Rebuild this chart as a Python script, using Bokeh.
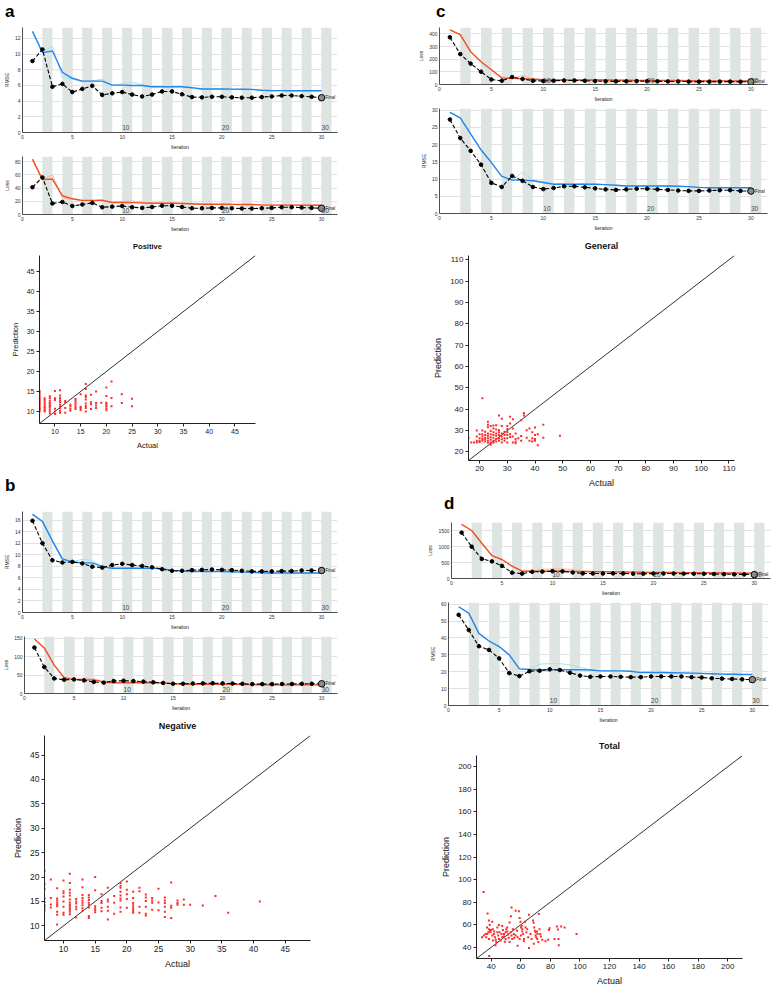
from bokeh.plotting import figure
from bokeh.layouts import column, row
from bokeh.models import Div, Range1d, FixedTicker
from bokeh.embed import file_html
from bokeh.resources import INLINE
from bokeh.core.properties import value

FONT = "Liberation Sans"

# ---------------- training-progress data ----------------
ITERS = list(range(1, 31))
BAND_START = [2, 4, 6, 8, 10, 12, 14, 16, 18, 20, 22, 24, 26, 28, 30]
EPOCH_AT = [10, 20, 30]
EPOCH_LABELS = ["10", "20", "30"]
ITER_TICKS = [0, 5, 10, 15, 20, 25, 30]

# panel a (Positive)
a_rmse_val = [9.12, 10.6, 5.84, 6.2, 5.16, 5.56, 5.96, 4.8, 5.0, 5.16, 4.84, 4.6, 4.84, 5.24, 5.24,
              4.88, 4.52, 4.48, 4.56, 4.56, 4.48, 4.44, 4.44, 4.52, 4.6, 4.72, 4.72, 4.64, 4.56, 4.44]
a_rmse_smooth = [12.9, 10.2, 10.4, 7.68, 6.92, 6.56, 6.56, 6.56, 6.04, 6.04, 6.0, 6.0, 5.84, 5.84, 5.84,
                 5.84, 5.72, 5.56, 5.56, 5.56, 5.54, 5.52, 5.5, 5.4, 5.34, 5.34, 5.33, 5.33, 5.32, 5.32]
a_rmse_raw = [12.9, 10.3, 11.0, 7.0, 6.8, 6.5, 6.6, 6.8, 6.0, 6.2, 6.4, 6.1, 5.8, 5.9, 5.8,
              5.9, 5.7, 5.5, 5.6, 5.5, 5.5, 5.5, 5.5, 5.4, 5.3, 5.35, 5.3, 5.35, 5.3, 5.3]
a_loss_val = [41.4, 56.2, 16.7, 19.0, 12.9, 15.2, 17.6, 11.0, 11.9, 12.9, 11.0, 10.0, 11.4, 13.3, 13.3,
              11.4, 9.5, 9.5, 10.0, 10.0, 9.5, 9.0, 9.0, 9.5, 10.0, 11.0, 11.0, 10.5, 10.0, 9.5]
a_loss_smooth = [84, 52.9, 53.8, 28.5, 23.8, 21.4, 21.4, 21.4, 18.2, 18.2, 18.0, 17.6, 17.0, 17.0, 17.0,
                 16.8, 16.3, 15.5, 15.5, 15.5, 15.3, 15.2, 15.1, 14.6, 14.3, 14.3, 14.2, 14.2, 14.1, 14.0]
a_loss_raw = [84, 54, 60, 25, 23, 21, 21, 23, 18, 19.5, 20.5, 18.5, 16.8, 17.5, 17.2,
              17.0, 16.0, 15.2, 15.6, 15.2, 15.3, 15.0, 15.1, 14.5, 14.2, 14.4, 14.1, 14.3, 14.0, 14.0]

# panel b (Negative)
b_rmse_val = [15.9, 12.0, 9.05, 8.66, 8.77, 8.5, 7.94, 7.78, 8.22, 8.44, 8.22, 8.06, 7.83, 7.5, 7.23,
              7.23, 7.34, 7.39, 7.45, 7.39, 7.34, 7.23, 7.12, 7.12, 7.12, 7.17, 7.17, 7.28, 7.28, 7.28]
b_rmse_smooth = [17.0, 15.8, 12.4, 9.3, 8.77, 8.6, 8.6, 7.94, 7.67, 7.67, 7.67, 7.67, 7.67, 7.6, 7.28,
                 7.2, 7.1, 7.1, 7.1, 7.1, 7.05, 7.0, 6.95, 6.9, 6.85, 6.85, 6.85, 6.84, 6.84, 6.84]
b_rmse_raw = [17.0, 15.8, 12.4, 9.0, 8.8, 9.2, 9.0, 7.9, 7.6, 7.7, 7.8, 7.6, 7.7, 7.5, 7.2,
              7.3, 7.1, 7.15, 7.1, 7.1, 7.0, 7.05, 6.9, 6.95, 6.85, 6.9, 6.85, 6.8, 6.9, 6.85]
b_loss_val = [125, 72, 40.9, 37.4, 38.3, 35.7, 31.3, 29.6, 33.9, 34.8, 33.9, 32.2, 30.4, 28.7, 26.5,
              26.5, 27.0, 27.4, 27.8, 27.4, 27.0, 26.5, 25.5, 25.5, 25.5, 25.8, 25.8, 26.5, 26.5, 26.5]
b_loss_smooth = [148, 124, 77, 43, 38.5, 37.0, 37.0, 31.5, 29.4, 29.4, 29.4, 29.4, 29.4, 28.9, 26.5,
                 26.0, 25.2, 25.2, 25.2, 25.2, 24.8, 24.5, 24.2, 23.8, 23.5, 23.5, 23.5, 23.4, 23.4, 23.4]
b_loss_raw = [148, 124, 77, 40, 38.7, 42, 40, 31.2, 29, 29.6, 30.4, 29, 29.6, 28, 26,
              26.6, 25.2, 25.6, 25.2, 25.2, 24.5, 24.9, 23.8, 24.2, 23.5, 23.8, 23.5, 23.1, 23.8, 23.5]

# panel c (General)
c_loss_val = [373, 240, 165, 101, 39.5, 29.6, 59, 44, 29.6, 27, 29.6, 32, 32, 29.6, 27,
              24.7, 24.7, 25, 26.5, 26, 25, 24, 24, 23, 22.5, 22.5, 23, 23, 22, 21]
c_loss_smooth = [432, 393, 259, 180, 116, 52, 48, 45, 42, 38, 36, 36, 36, 36, 36,
                 35, 34, 33, 32, 32, 32, 31, 31, 30, 30, 29, 29, 28.5, 28, 28]
c_loss_raw = [432, 393, 259, 180, 116, 52, 46, 72, 45, 40, 37, 36, 35, 37, 36,
              35, 34, 33, 32, 32.5, 32, 31, 31.5, 30, 30, 29, 29, 28.5, 28, 28]
c_rmse_val = [27.3, 21.9, 18.2, 14.2, 8.9, 7.7, 10.9, 9.5, 7.7, 7.1, 7.4, 7.9, 7.9, 7.6, 7.3,
              7.0, 6.85, 7.0, 7.2, 7.2, 7.0, 6.85, 6.67, 6.57, 6.57, 6.67, 6.76, 6.76, 6.57, 6.5]
c_rmse_smooth = [29.4, 27.8, 23.1, 18.5, 14.8, 10.8, 9.7, 9.7, 9.5, 9.0, 8.5, 8.5, 8.5, 8.5, 8.5,
                 8.4, 8.2, 8.0, 8.0, 8.0, 8.0, 8.0, 7.9, 7.8, 7.6, 7.5, 7.5, 7.5, 7.5, 7.5]
c_rmse_raw = [29.4, 27.8, 23.1, 18.5, 14.8, 10.8, 9.6, 12.0, 9.6, 9.2, 8.6, 8.7, 8.4, 8.8, 8.6,
              8.3, 8.1, 8.0, 8.1, 7.9, 8.0, 7.9, 7.9, 7.7, 7.6, 7.5, 7.6, 7.5, 7.5, 7.5]

# panel d (Total)
d_loss_val = [1434, 994, 612, 535, 395, 183, 152, 208, 215, 229, 222, 189, 160, 155, 155,
              160, 155, 150, 150, 155, 155, 155, 152, 150, 148, 140, 135, 130, 128, 122]
d_loss_smooth = [1692, 1500, 1100, 717, 593, 385, 228, 225, 225, 226, 225, 220, 215, 212, 210,
                 207, 205, 200, 195, 192, 190, 188, 185, 182, 180, 177, 174, 171, 168, 165]
d_loss_raw = [1692, 1500, 1100, 717, 593, 385, 228, 240, 290, 300, 300, 285, 250, 225, 212,
              210, 205, 200, 196, 192, 190, 188, 186, 182, 180, 177, 174, 171, 168, 165]
d_rmse_val = [53.7, 44.7, 35.1, 32.9, 27.9, 19.2, 17.4, 20.3, 20.6, 21.4, 21.0, 19.4, 17.7, 17.0, 17.2,
              17.2, 17.0, 16.8, 16.8, 17.2, 17.2, 17.2, 17.2, 16.8, 16.6, 16.1, 15.9, 15.7, 15.5, 15.3]
d_rmse_smooth = [58.5, 54.7, 42.7, 38.2, 34.9, 30.0, 21.7, 21.3, 21.2, 21.2, 21.2, 21.2, 21.2, 21.0, 20.5,
                 20.5, 20.5, 20.3, 19.5, 19.5, 19.5, 19.4, 19.3, 19.2, 19.0, 18.8, 18.6, 18.5, 18.4, 18.4]
d_rmse_raw = [58.5, 54.7, 42.7, 38.2, 34.9, 30.0, 21.7, 21.5, 24.5, 24.8, 24.8, 24.0, 22.5, 21.2, 20.6,
              20.5, 20.4, 20.2, 19.6, 19.5, 19.4, 19.4, 19.3, 19.2, 19.0, 18.8, 18.6, 18.5, 18.4, 18.4]

# ---------------- scatter data (actual -> predictions) ----------------
POS = {
    7: [10.0, 10.3, 10.6, 10.9, 11.2, 11.5, 11.8, 12.1, 12.4, 12.7, 13.0, 13.3, 13.6, 14.0, 14.4, 14.8, 15.2],
    8: [10.0, 10.4, 10.9, 11.3, 11.8, 12.3, 12.9, 13.3],
    9: [9.5, 10.0, 10.5, 11.0, 11.4, 11.8, 12.2, 12.7, 13.3, 13.8],
    10: [9.4, 10.0, 10.7, 12.9, 13.3, 15.1],
    11: [9.7, 10.2, 10.8, 11.2, 11.7, 12.3, 12.8, 13.4, 14.0, 15.3],
    12: [9.7, 10.9, 12.2, 12.6],
    13: [10.2, 10.7, 11.3, 11.7],
    14: [10.6, 11.1, 11.7, 12.2, 12.7, 13.1],
    15: [10.4, 10.9, 11.2, 14.3],
    16: [10.0, 10.9, 11.4, 12.0, 13.0, 13.6, 14.0, 15.6, 16.9],
    17: [10.6, 11.8, 12.3, 14.2],
    18: [10.9, 11.5, 12.1, 15.0],
    19: [12.2],
    20: [10.3, 10.8, 11.4, 11.8, 12.2, 13.9, 16.0],
    21: [11.3, 13.4, 17.5],
    23: [12.1, 14.3],
    25: [11.3, 13.2],
}
NEG = {
    7: [21.3, 18.5, 17.6, 15.6, 14.9, 14.2, 13.75, 13.2],
    8: [19.5, 15.7, 14.4, 13.75],
    9: [17.7, 15.6, 15.2, 14.75, 14.35, 14.0, 12.9, 12.3, 10.3],
    10: [19.3, 17.1, 16.7, 16.0, 15.0, 13.9, 12.7, 12.3],
    11: [20.7, 18.8, 17.4, 16.8, 16.2, 15.4, 14.8, 14.4, 14.0, 13.6, 13.3, 12.9, 12.4],
    12: [15.5, 15.0, 14.6, 13.9, 13.4, 11.7],
    13: [19.5, 17.9, 16.3, 15.7, 15.2, 14.75, 14.2, 13.6, 13.1],
    14: [16.3, 15.8, 15.3, 14.75, 14.3, 13.75, 12.0, 11.6],
    15: [20.0, 17.3, 14.0, 13.6, 13.2, 12.8],
    16: [16.5, 15.1, 14.7, 13.7, 13.0],
    17: [17.8, 15.4, 15.0, 13.9, 13.1, 11.3],
    18: [16.1, 14.75, 12.5],
    19: [18.8, 18.2, 17.8, 17.0, 16.2, 15.6, 15.2, 13.75, 12.9],
    20: [19.1, 17.4, 16.5, 15.5, 13.7],
    21: [17.0, 15.7, 14.7, 14.2, 13.75, 13.35, 13.0, 12.7],
    22: [17.8, 17.1, 13.9, 12.7],
    23: [16.4, 15.8, 15.1, 13.9, 12.5, 12.1],
    24: [15.7, 15.2, 14.75, 13.3],
    25: [17.6, 14.8, 13.2],
    26: [15.8, 15.2, 14.7, 13.9, 12.9, 11.8],
    27: [18.9, 14.1, 13.7, 11.6],
    28: [15.2, 14.7, 14.3],
    29: [15.4, 14.35],
    30: [14.3],
    32: [14.15],
    34: [16.1],
    36: [12.7],
    41: [15.0],
}
GEN = {
    16: [26.4],
    17: [24.4],
    18: [24.4],
    19: [30.1, 27.2, 25.2, 24.4],
    20: [28.3, 26.4, 25.3, 24.7],
    21: [45.1, 30.1, 28.3, 27.2, 26.1, 25.2],
    22: [29.5, 27.9, 26.7, 25.8, 24.9],
    23: [34.1, 32.8, 31.6, 28.7, 27.6, 26.4, 25.2, 24.3],
    24: [32.2, 29.8, 28.3, 26.9, 25.7, 24.4, 23.4],
    25: [32.4, 31.0, 29.2, 27.9, 26.7, 25.3, 24.3],
    26: [32.5, 30.5, 28.7, 27.6, 26.1, 24.9],
    27: [37.1, 30.2, 29.2, 27.9, 26.4, 25.3],
    28: [35.6, 32.2, 28.7, 27.2, 26.0, 24.4],
    29: [29.5, 27.9, 26.4, 25.3],
    30: [32.1, 30.7, 29.2, 27.9, 26.4, 24.4],
    31: [36.5, 33.3, 28.3, 27.0],
    32: [35.3, 31.0, 27.2, 24.4],
    33: [28.7, 26.1, 24.9, 24.1],
    34: [26.4],
    35: [34.8, 27.5, 25.3],
    36: [38.3, 37.1],
    37: [30.2, 26.7],
    38: [31.0, 25.2],
    39: [29.2, 26.4, 24.9],
    40: [31.5, 27.9, 26.1, 25.2],
    41: [28.3, 23.1],
    43: [32.8, 26.7],
    49: [27.6],
}
TOT_ACTUAL = [34.8, 37.5, 38.4, 40.7, 38.6, 33.7, 37.1, 38.4, 39.5, 37.3, 36.6, 38.4, 40.7, 41.8, 42.5,
              43.0, 44.1, 44.1, 44.7, 45.2, 46.3, 42.9, 45.2, 47.4, 47.9, 48.6, 48.6, 49.7, 49.2, 50.8,
              50.8, 51.3, 51.9, 52.4, 53.3, 53.7, 54.6, 55.3, 55.5, 56.5, 57.4, 57.8, 58.7, 59.2, 59.8,
              60.5, 61.0, 61.6, 62.1, 62.1, 62.8, 63.2, 60.1, 61.0, 64.3, 65.0, 65.5, 65.5, 68.2, 68.6,
              69.1, 69.5, 70.0, 70.0, 70.4, 71.1, 70.9, 71.3, 71.8, 72.2, 72.7, 73.1, 73.6, 74.5, 76.7,
              79.0, 79.4, 78.5, 82.8, 84.4, 85.1, 85.5, 85.7, 87.3, 89.6, 97.7,
              39.1, 39.8, 41.1, 42.0, 41.1, 43.4, 46.9, 47.4, 45.6, 49.7, 50.1, 53.1, 53.7, 54.2, 52.4,
              56.5, 57.8, 59.2, 60.1, 63.7, 66.6, 67.3, 68.8, 38.9, 38.0, 36.2, 35.0]
TOT_PRED = [88.9, 69.8, 63.8, 62.6, 32.3, 48.9, 57.5, 56.0, 53.2, 51.7, 48.9, 47.4, 50.3, 51.7, 48.9,
            46.6, 57.5, 53.2, 50.3, 47.4, 46.0, 41.7, 59.7, 58.9, 55.2, 51.7, 49.4, 47.4, 44.9, 57.5,
            54.0, 51.2, 48.3, 62.0, 67.5, 75.2, 56.0, 51.7, 48.3, 72.3, 54.6, 41.4, 71.8, 66.0, 62.6,
            58.9, 56.0, 51.7, 47.4, 45.4, 62.6, 57.5, 57.5, 54.0, 56.0, 48.9, 68.9, 39.4, 63.8, 61.8,
            57.5, 54.6, 53.2, 50.3, 48.9, 47.4, 54.0, 51.7, 44.6, 69.5, 56.0, 51.7, 49.4, 46.6, 45.4,
            55.2, 56.9, 46.6, 47.4, 58.3, 55.7, 47.4, 41.7, 58.3, 57.5, 51.7,
            54.6, 55.2, 56.0, 54.0, 46.0, 44.6, 51.7, 48.9, 53.2, 53.2, 56.0, 53.2, 50.3, 47.4, 44.6,
            50.3, 48.9, 47.4, 50.3, 53.2, 51.7, 47.4, 43.1, 59.7, 53.2, 51.7, 50.3]

POS_RANGE = [7, 49]
NEG_RANGE = [7, 49]
GEN_RANGE = [16, 112]
TOT_RANGE = [30, 210]
POS_TICKS = [10, 15, 20, 25, 30, 35, 40, 45]
GEN_TICKS = [20, 30, 40, 50, 60, 70, 80, 90, 100, 110]
TOT_TICKS = [40, 60, 80, 100, 120, 140, 160, 180, 200]

BLUE, BLUE_RAW = "#2386ea", "#a6e4ee"
RED, RED_RAW = "#f04e23", "#f6b8a8"
BAND = "#dde4e1"


def flatten(d):
    xs, ys = [], []
    for k, v in d.items():
        xs += [k] * len(v)
        ys += v
    return xs, ys


def iter_fig(w, h, bl, br, bt, bb, ymax, yticks, ylabel, val, smooth, raw, color, rawcolor):
    p = figure(width=w, height=h, x_range=Range1d(0, 31.6), y_range=Range1d(0, ymax),
               output_backend="svg", toolbar_location=None,
               min_border_left=bl, min_border_right=br, min_border_top=bt, min_border_bottom=bb)
    p.outline_line_color = None
    p.quad(left=BAND_START, right=[b + 1 for b in BAND_START], bottom=0, top=ymax,
           fill_color=BAND, line_color=None)
    p.line(ITERS, raw, line_color=rawcolor, line_width=1)
    p.line(ITERS, smooth, line_color=color, line_width=1.4)
    p.line(ITERS, val, line_color="black", line_dash="4 2", line_width=1.1)
    p.scatter(ITERS, val, size=3.6, marker="circle", fill_color="black", line_color="black")
    p.scatter([ITERS[-1]], [val[-1]], size=6.5, marker="circle", fill_color="#8c8c8c", line_color="black")
    p.text(x=[ITERS[-1] + 0.4], y=[val[-1]], text=["Final"], text_font=value(FONT),
           text_font_size=value("4.5px"), text_baseline="middle", text_color="#222")
    p.text(x=EPOCH_AT, y=[ymax * 0.025] * 3, text=EPOCH_LABELS, text_font=value(FONT),
           text_font_size=value("6.5px"), text_baseline="bottom", text_align="left", text_color="#444")
    p.xaxis.ticker = FixedTicker(ticks=ITER_TICKS)
    p.yaxis.ticker = FixedTicker(ticks=yticks)
    p.xaxis.axis_label = "Iteration"
    p.yaxis.axis_label = ylabel
    for ax in (p.xaxis, p.yaxis):
        ax.major_label_text_font = FONT
        ax.major_label_text_font_size = "5px"
        ax.major_label_text_color = "#333"
        ax.axis_label_text_font = FONT
        ax.axis_label_text_font_size = "5px"
        ax.axis_label_text_font_style = "normal"
        ax.axis_label_text_color = "#222"
        ax.axis_label_standoff = 2
        ax.major_label_standoff = 2
        ax.major_tick_in = 0
        ax.major_tick_out = 0
        ax.minor_tick_out = 0
        ax.minor_tick_in = 0
        ax.axis_line_color = "#222"
        ax.axis_line_width = 0.8
    p.xgrid.grid_line_color = "#eeeeee"
    p.ygrid.grid_line_color = "#e2e2e2"
    return row(p)


def scatter_fig(w, h, bl, br, bt, bb, rng, ticks, title, xs, ys, fs_tick, fs_label, fs_title):
    p = figure(width=w, height=h, x_range=Range1d(*rng), y_range=Range1d(*rng),
               output_backend="svg", toolbar_location=None, title=title,
               min_border_left=bl, min_border_right=br, min_border_top=bt, min_border_bottom=bb)
    p.outline_line_color = None
    p.title.align = "center"
    p.title.text_font = FONT
    p.title.text_font_size = fs_title
    p.title.text_font_style = "bold"
    p.title.text_color = "#111"
    p.xgrid.visible = False
    p.ygrid.visible = False
    p.line(rng, rng, line_color="#333", line_width=1)
    p.scatter(xs, ys, marker="square", size=2.0, fill_color="#ff2a2a", line_color=None)
    p.xaxis.ticker = FixedTicker(ticks=ticks)
    p.yaxis.ticker = FixedTicker(ticks=ticks)
    p.xaxis.axis_label = "Actual"
    p.yaxis.axis_label = "Prediction"
    for ax in (p.xaxis, p.yaxis):
        ax.major_label_text_font = FONT
        ax.major_label_text_font_size = fs_tick
        ax.major_label_text_color = "#222"
        ax.axis_label_text_font = FONT
        ax.axis_label_text_font_size = fs_label
        ax.axis_label_text_font_style = "normal"
        ax.axis_label_text_color = "#111"
        ax.axis_label_standoff = 4
        ax.major_label_standoff = 2
        ax.major_tick_in = 0
        ax.major_tick_out = 3
        ax.minor_tick_out = 0
        ax.minor_tick_in = 0
        ax.axis_line_color = "#222"
        ax.major_tick_line_color = "#222"
    return row(p)


def letter(ch, w, h, pad_left, pad_top):
    return Div(text=ch, width=w, height=h,
               styles={"font-family": FONT, "font-size": "17px", "font-weight": "bold",
                       "line-height": "14px", "padding-left": f"{pad_left}px",
                       "padding-top": f"{pad_top}px", "color": "#000"})


pos_x, pos_y = flatten(POS)
neg_x, neg_y = flatten(NEG)
gen_x, gen_y = flatten(GEN)

# ---------------- left column ----------------
fa1 = iter_fig(347, 128, 12, 10, 3, 17, 13.4, [0, 2, 4, 6, 8, 10, 12], "RMSE",
               a_rmse_val, a_rmse_smooth, a_rmse_raw, BLUE, BLUE_RAW)
fa2 = iter_fig(347, 82, 12, 10, 4, 17, 88, [0, 20, 40, 60, 80], "Loss",
               a_loss_val, a_loss_smooth, a_loss_raw, RED, RED_RAW)
fa3 = scatter_fig(290, 218, 39, 35, 20, 26, POS_RANGE, POS_TICKS, "Positive", pos_x, pos_y,
                  "7px", "7.5px", "7.5px")
fb1 = iter_fig(347, 125, 12, 10, 4, 17, 17.5, [0, 2, 4, 6, 8, 10, 12, 14, 16], "RMSE",
               b_rmse_val, b_rmse_smooth, b_rmse_raw, BLUE, BLUE_RAW)
fb2 = iter_fig(347, 81, 12, 10, 4, 17, 155, [0, 50, 100, 150], "Loss",
               b_loss_val, b_loss_smooth, b_loss_raw, RED, RED_RAW)
fb3 = scatter_fig(381, 258, 44, 71, 20, 28, NEG_RANGE, POS_TICKS, "Negative", neg_x, neg_y,
                  "8.5px", "9px", "9px")

left = column(letter("a", 381, 14, 0, 0), fa1, fa2, fa3,
              letter("b", 381, 45, 0, 22), fb1, fb2, fb3)

# ---------------- right column ----------------
fc1 = iter_fig(381, 80, 48, 5, 3, 16, 450, [0, 100, 200, 300, 400], "Loss",
               c_loss_val, c_loss_smooth, c_loss_raw, RED, RED_RAW)
fc2 = iter_fig(381, 129, 48, 5, 4, 17, 30.5, [0, 5, 10, 15, 20, 25, 30], "RMSE",
               c_rmse_val, c_rmse_smooth, c_rmse_raw, BLUE, BLUE_RAW)
fc3 = scatter_fig(381, 257, 77, 38, 22, 28, GEN_RANGE, GEN_TICKS, "General", gen_x, gen_y,
                  "8px", "9px", "9px")
fd1 = iter_fig(381, 80, 60, 2, 4, 16, 1750, [0, 500, 1000, 1500], "Loss",
               d_loss_val, d_loss_smooth, d_loss_raw, RED, RED_RAW)
fd2 = iter_fig(381, 127, 57, 4, 4, 17, 61, [0, 10, 20, 30, 40, 50, 60], "RMSE",
               d_rmse_val, d_rmse_smooth, d_rmse_raw, BLUE, BLUE_RAW)
fd3 = scatter_fig(381, 263, 85, 30, 30, 28, TOT_RANGE, TOT_TICKS, "Total", TOT_ACTUAL, TOT_PRED,
                  "8px", "9px", "9px")

right = column(letter("c", 381, 14, 40, 0), fc1, fc2, fc3,
               letter("d", 381, 18, 48, 2), fd1, fd2, fd3)

layout = row(left, right)

open("out.html", "w").write(file_html(layout, INLINE, "Training progress"))
